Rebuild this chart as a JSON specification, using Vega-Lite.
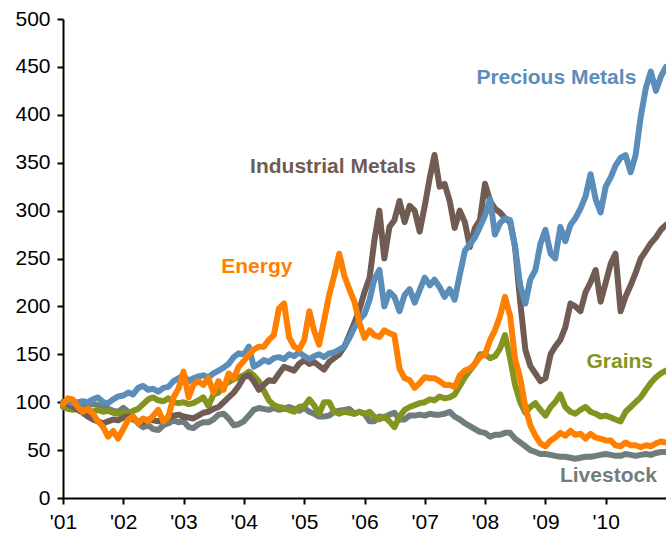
{
  "$schema": "https://vega.github.io/schema/vega-lite/v6.json",
  "width": 603,
  "height": 479,
  "autosize": {"type": "none"},
  "padding": {"left": 63, "top": 19, "right": 0, "bottom": 37},
  "background": "white",
  "config": {"view": {"stroke": null}, "font": "Liberation Sans"},
  "layer": [
    {
      "data": {
        "values": [
          {"date": "2001-01-01", "Precious Metals": 100, "Industrial Metals": 100, "Energy": 98, "Grains": 95, "Livestock": 97},
          {"date": "2001-02-01", "Precious Metals": 101, "Industrial Metals": 98, "Energy": 104, "Grains": 93, "Livestock": 96},
          {"date": "2001-03-01", "Precious Metals": 99, "Industrial Metals": 95, "Energy": 103, "Grains": 92, "Livestock": 95},
          {"date": "2001-04-01", "Precious Metals": 100, "Industrial Metals": 92, "Energy": 95, "Grains": 93, "Livestock": 97},
          {"date": "2001-05-01", "Precious Metals": 101, "Industrial Metals": 89, "Energy": 90, "Grains": 92, "Livestock": 96},
          {"date": "2001-06-01", "Precious Metals": 100, "Industrial Metals": 85, "Energy": 93, "Grains": 92, "Livestock": 97},
          {"date": "2001-07-01", "Precious Metals": 103, "Industrial Metals": 82, "Energy": 88, "Grains": 90, "Livestock": 98},
          {"date": "2001-08-01", "Precious Metals": 105, "Industrial Metals": 80, "Energy": 80, "Grains": 92, "Livestock": 97},
          {"date": "2001-09-01", "Precious Metals": 100, "Industrial Metals": 78, "Energy": 74, "Grains": 90, "Livestock": 95},
          {"date": "2001-10-01", "Precious Metals": 99, "Industrial Metals": 80, "Energy": 64, "Grains": 91, "Livestock": 93},
          {"date": "2001-11-01", "Precious Metals": 103, "Industrial Metals": 82, "Energy": 70, "Grains": 89, "Livestock": 91},
          {"date": "2001-12-01", "Precious Metals": 106, "Industrial Metals": 81, "Energy": 62, "Grains": 88, "Livestock": 90},
          {"date": "2002-01-01", "Precious Metals": 107, "Industrial Metals": 84, "Energy": 72, "Grains": 90, "Livestock": 94},
          {"date": "2002-02-01", "Precious Metals": 110, "Industrial Metals": 85, "Energy": 82, "Grains": 88, "Livestock": 90},
          {"date": "2002-03-01", "Precious Metals": 108, "Industrial Metals": 82, "Energy": 85, "Grains": 91, "Livestock": 85},
          {"date": "2002-04-01", "Precious Metals": 115, "Industrial Metals": 80, "Energy": 78, "Grains": 93, "Livestock": 78},
          {"date": "2002-05-01", "Precious Metals": 117, "Industrial Metals": 79, "Energy": 83, "Grains": 98, "Livestock": 74},
          {"date": "2002-06-01", "Precious Metals": 113, "Industrial Metals": 82, "Energy": 80, "Grains": 103, "Livestock": 76},
          {"date": "2002-07-01", "Precious Metals": 114, "Industrial Metals": 81, "Energy": 86, "Grains": 105, "Livestock": 72},
          {"date": "2002-08-01", "Precious Metals": 111, "Industrial Metals": 80, "Energy": 92, "Grains": 102, "Livestock": 71},
          {"date": "2002-09-01", "Precious Metals": 115, "Industrial Metals": 82, "Energy": 80, "Grains": 101, "Livestock": 76},
          {"date": "2002-10-01", "Precious Metals": 116, "Industrial Metals": 84, "Energy": 85, "Grains": 104, "Livestock": 78},
          {"date": "2002-11-01", "Precious Metals": 122, "Industrial Metals": 86, "Energy": 105, "Grains": 100, "Livestock": 81},
          {"date": "2002-12-01", "Precious Metals": 125, "Industrial Metals": 87, "Energy": 114, "Grains": 99, "Livestock": 79},
          {"date": "2003-01-01", "Precious Metals": 128, "Industrial Metals": 85, "Energy": 132, "Grains": 100, "Livestock": 80},
          {"date": "2003-02-01", "Precious Metals": 122, "Industrial Metals": 84, "Energy": 105, "Grains": 98, "Livestock": 74},
          {"date": "2003-03-01", "Precious Metals": 125, "Industrial Metals": 83, "Energy": 118, "Grains": 99, "Livestock": 73},
          {"date": "2003-04-01", "Precious Metals": 127, "Industrial Metals": 86, "Energy": 122, "Grains": 102, "Livestock": 77},
          {"date": "2003-05-01", "Precious Metals": 128, "Industrial Metals": 89, "Energy": 118, "Grains": 105, "Livestock": 79},
          {"date": "2003-06-01", "Precious Metals": 126, "Industrial Metals": 90, "Energy": 125, "Grains": 96, "Livestock": 79},
          {"date": "2003-07-01", "Precious Metals": 130, "Industrial Metals": 93, "Energy": 110, "Grains": 108, "Livestock": 82},
          {"date": "2003-08-01", "Precious Metals": 133, "Industrial Metals": 95, "Energy": 122, "Grains": 110, "Livestock": 87},
          {"date": "2003-09-01", "Precious Metals": 136, "Industrial Metals": 100, "Energy": 113, "Grains": 118, "Livestock": 88},
          {"date": "2003-10-01", "Precious Metals": 140, "Industrial Metals": 105, "Energy": 130, "Grains": 121, "Livestock": 83},
          {"date": "2003-11-01", "Precious Metals": 147, "Industrial Metals": 110, "Energy": 125, "Grains": 124, "Livestock": 76},
          {"date": "2003-12-01", "Precious Metals": 151, "Industrial Metals": 117, "Energy": 137, "Grains": 126, "Livestock": 77},
          {"date": "2004-01-01", "Precious Metals": 150, "Industrial Metals": 126, "Energy": 143, "Grains": 128, "Livestock": 80},
          {"date": "2004-02-01", "Precious Metals": 158, "Industrial Metals": 128, "Energy": 150, "Grains": 132, "Livestock": 86},
          {"date": "2004-03-01", "Precious Metals": 137, "Industrial Metals": 122, "Energy": 155, "Grains": 128, "Livestock": 92},
          {"date": "2004-04-01", "Precious Metals": 140, "Industrial Metals": 113, "Energy": 158, "Grains": 122, "Livestock": 94},
          {"date": "2004-05-01", "Precious Metals": 144, "Industrial Metals": 118, "Energy": 158, "Grains": 112, "Livestock": 93},
          {"date": "2004-06-01", "Precious Metals": 142, "Industrial Metals": 123, "Energy": 165, "Grains": 102, "Livestock": 92},
          {"date": "2004-07-01", "Precious Metals": 146, "Industrial Metals": 122, "Energy": 170, "Grains": 97, "Livestock": 94},
          {"date": "2004-08-01", "Precious Metals": 147, "Industrial Metals": 130, "Energy": 198, "Grains": 95, "Livestock": 92},
          {"date": "2004-09-01", "Precious Metals": 145, "Industrial Metals": 137, "Energy": 203, "Grains": 94, "Livestock": 93},
          {"date": "2004-10-01", "Precious Metals": 150, "Industrial Metals": 135, "Energy": 168, "Grains": 92, "Livestock": 95},
          {"date": "2004-11-01", "Precious Metals": 148, "Industrial Metals": 133, "Energy": 158, "Grains": 90, "Livestock": 93},
          {"date": "2004-12-01", "Precious Metals": 152, "Industrial Metals": 140, "Energy": 155, "Grains": 95, "Livestock": 91},
          {"date": "2005-01-01", "Precious Metals": 148, "Industrial Metals": 144, "Energy": 165, "Grains": 96, "Livestock": 94},
          {"date": "2005-02-01", "Precious Metals": 145, "Industrial Metals": 140, "Energy": 195, "Grains": 103, "Livestock": 90},
          {"date": "2005-03-01", "Precious Metals": 148, "Industrial Metals": 142, "Energy": 175, "Grains": 97, "Livestock": 88},
          {"date": "2005-04-01", "Precious Metals": 150, "Industrial Metals": 138, "Energy": 160, "Grains": 88, "Livestock": 85},
          {"date": "2005-05-01", "Precious Metals": 147, "Industrial Metals": 134, "Energy": 185, "Grains": 100, "Livestock": 85},
          {"date": "2005-06-01", "Precious Metals": 151, "Industrial Metals": 142, "Energy": 212, "Grains": 100, "Livestock": 86},
          {"date": "2005-07-01", "Precious Metals": 152, "Industrial Metals": 146, "Energy": 232, "Grains": 90, "Livestock": 90},
          {"date": "2005-08-01", "Precious Metals": 155, "Industrial Metals": 150, "Energy": 255, "Grains": 88, "Livestock": 91},
          {"date": "2005-09-01", "Precious Metals": 158, "Industrial Metals": 158, "Energy": 232, "Grains": 90, "Livestock": 92},
          {"date": "2005-10-01", "Precious Metals": 167, "Industrial Metals": 170, "Energy": 218, "Grains": 89, "Livestock": 93},
          {"date": "2005-11-01", "Precious Metals": 178, "Industrial Metals": 183, "Energy": 205, "Grains": 88, "Livestock": 88},
          {"date": "2005-12-01", "Precious Metals": 186, "Industrial Metals": 197, "Energy": 183, "Grains": 90, "Livestock": 90},
          {"date": "2006-01-01", "Precious Metals": 192, "Industrial Metals": 215, "Energy": 167, "Grains": 88, "Livestock": 88},
          {"date": "2006-02-01", "Precious Metals": 207, "Industrial Metals": 230, "Energy": 175, "Grains": 90, "Livestock": 80},
          {"date": "2006-03-01", "Precious Metals": 228, "Industrial Metals": 268, "Energy": 170, "Grains": 85, "Livestock": 80},
          {"date": "2006-04-01", "Precious Metals": 238, "Industrial Metals": 300, "Energy": 168, "Grains": 82, "Livestock": 85},
          {"date": "2006-05-01", "Precious Metals": 200, "Industrial Metals": 250, "Energy": 175, "Grains": 85, "Livestock": 84},
          {"date": "2006-06-01", "Precious Metals": 215, "Industrial Metals": 283, "Energy": 172, "Grains": 80, "Livestock": 87},
          {"date": "2006-07-01", "Precious Metals": 210, "Industrial Metals": 290, "Energy": 170, "Grains": 74, "Livestock": 89},
          {"date": "2006-08-01", "Precious Metals": 195, "Industrial Metals": 310, "Energy": 135, "Grains": 85, "Livestock": 82},
          {"date": "2006-09-01", "Precious Metals": 212, "Industrial Metals": 288, "Energy": 125, "Grains": 92, "Livestock": 82},
          {"date": "2006-10-01", "Precious Metals": 218, "Industrial Metals": 305, "Energy": 123, "Grains": 95, "Livestock": 86},
          {"date": "2006-11-01", "Precious Metals": 204, "Industrial Metals": 300, "Energy": 115, "Grains": 97, "Livestock": 86},
          {"date": "2006-12-01", "Precious Metals": 217, "Industrial Metals": 278, "Energy": 120, "Grains": 99, "Livestock": 87},
          {"date": "2007-01-01", "Precious Metals": 230, "Industrial Metals": 305, "Energy": 126, "Grains": 100, "Livestock": 86},
          {"date": "2007-02-01", "Precious Metals": 222, "Industrial Metals": 335, "Energy": 125, "Grains": 103, "Livestock": 88},
          {"date": "2007-03-01", "Precious Metals": 228, "Industrial Metals": 358, "Energy": 125, "Grains": 102, "Livestock": 87},
          {"date": "2007-04-01", "Precious Metals": 220, "Industrial Metals": 325, "Energy": 122, "Grains": 106, "Livestock": 87},
          {"date": "2007-05-01", "Precious Metals": 210, "Industrial Metals": 328, "Energy": 118, "Grains": 104, "Livestock": 88},
          {"date": "2007-06-01", "Precious Metals": 218, "Industrial Metals": 310, "Energy": 118, "Grains": 105, "Livestock": 90},
          {"date": "2007-07-01", "Precious Metals": 207, "Industrial Metals": 282, "Energy": 116, "Grains": 108, "Livestock": 85},
          {"date": "2007-08-01", "Precious Metals": 233, "Industrial Metals": 300, "Energy": 128, "Grains": 117, "Livestock": 82},
          {"date": "2007-09-01", "Precious Metals": 258, "Industrial Metals": 288, "Energy": 133, "Grains": 126, "Livestock": 78},
          {"date": "2007-10-01", "Precious Metals": 265, "Industrial Metals": 262, "Energy": 135, "Grains": 133, "Livestock": 75},
          {"date": "2007-11-01", "Precious Metals": 272, "Industrial Metals": 282, "Energy": 140, "Grains": 140, "Livestock": 72},
          {"date": "2007-12-01", "Precious Metals": 283, "Industrial Metals": 290, "Energy": 147, "Grains": 150, "Livestock": 69},
          {"date": "2008-01-01", "Precious Metals": 295, "Industrial Metals": 328, "Energy": 150, "Grains": 150, "Livestock": 68},
          {"date": "2008-02-01", "Precious Metals": 312, "Industrial Metals": 310, "Energy": 165, "Grains": 146, "Livestock": 64},
          {"date": "2008-03-01", "Precious Metals": 275, "Industrial Metals": 302, "Energy": 175, "Grains": 148, "Livestock": 66},
          {"date": "2008-04-01", "Precious Metals": 287, "Industrial Metals": 298, "Energy": 190, "Grains": 156, "Livestock": 66},
          {"date": "2008-05-01", "Precious Metals": 292, "Industrial Metals": 292, "Energy": 210, "Grains": 170, "Livestock": 68},
          {"date": "2008-06-01", "Precious Metals": 290, "Industrial Metals": 288, "Energy": 190, "Grains": 146, "Livestock": 68},
          {"date": "2008-07-01", "Precious Metals": 262, "Industrial Metals": 262, "Energy": 145, "Grains": 118, "Livestock": 62},
          {"date": "2008-08-01", "Precious Metals": 222, "Industrial Metals": 205, "Energy": 125, "Grains": 100, "Livestock": 58},
          {"date": "2008-09-01", "Precious Metals": 203, "Industrial Metals": 155, "Energy": 95, "Grains": 89, "Livestock": 54},
          {"date": "2008-10-01", "Precious Metals": 228, "Industrial Metals": 138, "Energy": 76, "Grains": 95, "Livestock": 50},
          {"date": "2008-11-01", "Precious Metals": 238, "Industrial Metals": 130, "Energy": 65, "Grains": 99, "Livestock": 48},
          {"date": "2008-12-01", "Precious Metals": 265, "Industrial Metals": 122, "Energy": 57, "Grains": 92, "Livestock": 46},
          {"date": "2009-01-01", "Precious Metals": 280, "Industrial Metals": 125, "Energy": 54, "Grains": 86, "Livestock": 46},
          {"date": "2009-02-01", "Precious Metals": 255, "Industrial Metals": 150, "Energy": 60, "Grains": 95, "Livestock": 45},
          {"date": "2009-03-01", "Precious Metals": 250, "Industrial Metals": 158, "Energy": 63, "Grains": 100, "Livestock": 44},
          {"date": "2009-04-01", "Precious Metals": 283, "Industrial Metals": 165, "Energy": 68, "Grains": 108, "Livestock": 43},
          {"date": "2009-05-01", "Precious Metals": 268, "Industrial Metals": 178, "Energy": 65, "Grains": 95, "Livestock": 43},
          {"date": "2009-06-01", "Precious Metals": 285, "Industrial Metals": 203, "Energy": 70, "Grains": 90, "Livestock": 42},
          {"date": "2009-07-01", "Precious Metals": 292, "Industrial Metals": 200, "Energy": 66, "Grains": 88, "Livestock": 41},
          {"date": "2009-08-01", "Precious Metals": 302, "Industrial Metals": 195, "Energy": 67, "Grains": 92, "Livestock": 42},
          {"date": "2009-09-01", "Precious Metals": 315, "Industrial Metals": 215, "Energy": 62, "Grains": 95, "Livestock": 43},
          {"date": "2009-10-01", "Precious Metals": 338, "Industrial Metals": 225, "Energy": 67, "Grains": 90, "Livestock": 43},
          {"date": "2009-11-01", "Precious Metals": 312, "Industrial Metals": 238, "Energy": 63, "Grains": 88, "Livestock": 44},
          {"date": "2009-12-01", "Precious Metals": 298, "Industrial Metals": 205, "Energy": 62, "Grains": 85, "Livestock": 45},
          {"date": "2010-01-01", "Precious Metals": 325, "Industrial Metals": 225, "Energy": 60, "Grains": 86, "Livestock": 46},
          {"date": "2010-02-01", "Precious Metals": 335, "Industrial Metals": 245, "Energy": 60, "Grains": 84, "Livestock": 45},
          {"date": "2010-03-01", "Precious Metals": 347, "Industrial Metals": 255, "Energy": 55, "Grains": 82, "Livestock": 44},
          {"date": "2010-04-01", "Precious Metals": 355, "Industrial Metals": 195, "Energy": 54, "Grains": 80, "Livestock": 44},
          {"date": "2010-05-01", "Precious Metals": 358, "Industrial Metals": 210, "Energy": 58, "Grains": 90, "Livestock": 46},
          {"date": "2010-06-01", "Precious Metals": 340, "Industrial Metals": 222, "Energy": 55, "Grains": 95, "Livestock": 45},
          {"date": "2010-07-01", "Precious Metals": 358, "Industrial Metals": 235, "Energy": 55, "Grains": 100, "Livestock": 44},
          {"date": "2010-08-01", "Precious Metals": 398, "Industrial Metals": 250, "Energy": 53, "Grains": 105, "Livestock": 45},
          {"date": "2010-09-01", "Precious Metals": 428, "Industrial Metals": 258, "Energy": 55, "Grains": 113, "Livestock": 46},
          {"date": "2010-10-01", "Precious Metals": 445, "Industrial Metals": 266, "Energy": 54, "Grains": 120, "Livestock": 45},
          {"date": "2010-11-01", "Precious Metals": 425, "Industrial Metals": 272, "Energy": 57, "Grains": 126, "Livestock": 47},
          {"date": "2010-12-01", "Precious Metals": 440, "Industrial Metals": 280, "Energy": 59, "Grains": 130, "Livestock": 48},
          {"date": "2011-01-01", "Precious Metals": 450, "Industrial Metals": 285, "Energy": 58, "Grains": 133, "Livestock": 48}
        ]
      },
      "transform": [
        {"fold": ["Livestock", "Grains", "Industrial Metals", "Precious Metals", "Energy"], "as": ["series", "value"]}
      ],
      "mark": {"type": "line", "strokeWidth": 6, "strokeJoin": "round", "strokeCap": "round"},
      "encoding": {
        "x": {
          "field": "date",
          "type": "temporal",
          "scale": {"domain": [{"year": 2001, "month": 1, "date": 1}, {"year": 2011, "month": 1, "date": 1}]},
          "axis": {
            "title": null,
            "grid": false,
            "values": [{"year": 2001}, {"year": 2002}, {"year": 2003}, {"year": 2004}, {"year": 2005}, {"year": 2006}, {"year": 2007}, {"year": 2008}, {"year": 2009}, {"year": 2010}],
            "format": "'%y",
            "labelFont": "Liberation Sans",
            "labelFontSize": 21,
            "labelColor": "black",
            "labelFlush": false,
            "labelOverlap": false,
            "labelPadding": 7,
            "domainColor": "black",
            "domainWidth": 2,
            "tickColor": "black",
            "tickWidth": 2,
            "tickSize": 6
          }
        },
        "y": {
          "field": "value",
          "type": "quantitative",
          "scale": {"domain": [0, 500], "nice": false},
          "axis": {
            "title": null,
            "grid": false,
            "values": [0, 50, 100, 150, 200, 250, 300, 350, 400, 450, 500],
            "labelFont": "Liberation Sans",
            "labelFontSize": 21,
            "labelColor": "black",
            "labelPadding": 7,
            "labelOverlap": false,
            "domainColor": "black",
            "domainWidth": 2,
            "tickColor": "black",
            "tickWidth": 2,
            "tickSize": 6
          }
        },
        "color": {
          "field": "series",
          "type": "nominal",
          "scale": {
            "domain": ["Livestock", "Grains", "Industrial Metals", "Precious Metals", "Energy"],
            "range": ["#6F7E7C", "#84951F", "#705C53", "#5A8DBA", "#FF8000"]
          },
          "legend": null
        }
      }
    },
    {
      "data": {
        "values": [
          {"series": "Precious Metals", "date": "2009-03-08", "value": 432},
          {"series": "Industrial Metals", "date": "2005-06-24", "value": 339},
          {"series": "Energy", "date": "2004-03-20", "value": 235},
          {"series": "Grains", "date": "2010-03-27", "value": 136},
          {"series": "Livestock", "date": "2010-01-17", "value": 17}
        ]
      },
      "mark": {"type": "text", "font": "Liberation Sans", "fontWeight": "bold", "fontSize": 21, "align": "center", "baseline": "alphabetic"},
      "encoding": {
        "x": {"field": "date", "type": "temporal"},
        "y": {"field": "value", "type": "quantitative"},
        "text": {"field": "series"},
        "color": {"field": "series", "type": "nominal", "legend": null}
      }
    }
  ]
}
